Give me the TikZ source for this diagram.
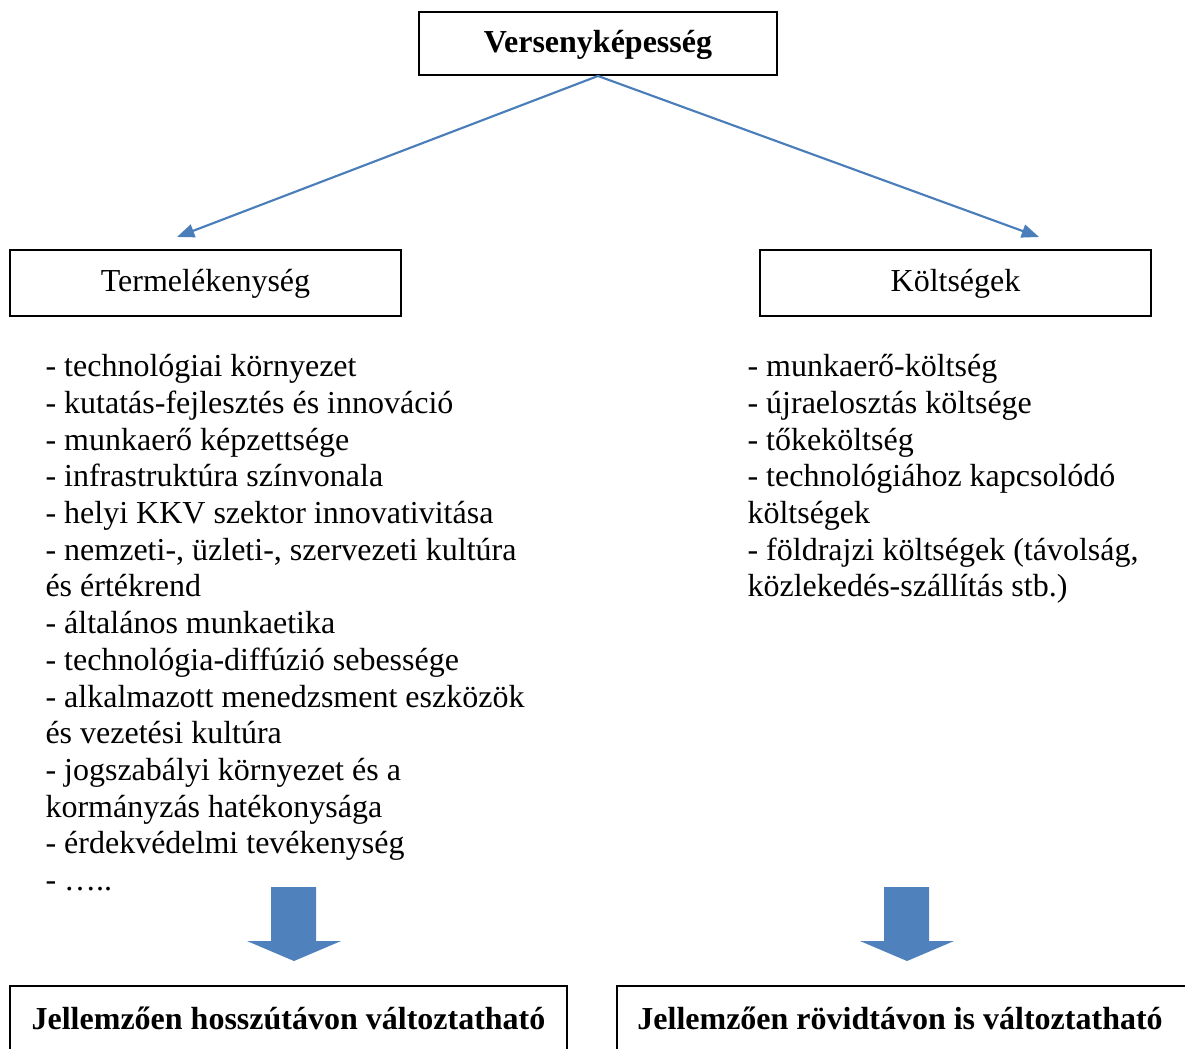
\documentclass[tikz,border=0pt]{standalone}
\usepackage{fontspec}
\setmainfont{Liberation Serif}
\usetikzlibrary{arrows.meta}
\definecolor{linkblue}{HTML}{4A7EBB}
\definecolor{blockblue}{HTML}{4F81BD}
\begin{document}
\begin{tikzpicture}[x=0.375pt,y=-0.375pt,
  box/.style={draw=black,line width=0.75pt,inner sep=0pt,text height=9pt,text depth=3pt,font=\fontsize{12}{14}\selectfont},
  bottombox/.style={draw=black,line width=0.75pt,inner xsep=0pt,inner ysep=0pt,text height=16.125pt,text depth=40pt,anchor=base,font=\fontsize{12}{14}\selectfont\bfseries},
  listline/.style={anchor=base west,inner sep=0pt,font=\fontsize{12}{14}\selectfont},
  link/.style={draw=linkblue,line width=0.8pt,-{Triangle[length=6.5pt,width=5pt]}},
  blockarrow/.style={fill=blockblue,draw=none}]
\useasboundingbox (0,0) rectangle (1185,1048);
\fill[white] (0,0) rectangle (1185,1048);

% top box
\node[box,text height=10pt,minimum width=134.25pt,minimum height=23.625pt,font=\fontsize{12}{14}\selectfont\bfseries] (top) at (598,43.5) {Versenyképesség};

% second level boxes
\node[box,minimum width=146.6pt,minimum height=24.75pt] (prod) at (205.5,283) {Termelékenység};
\node[box,minimum width=146.6pt,minimum height=24.75pt] (cost) at (955.5,283) {Költségek};

% connectors
\coordinate (tipL) at (177,237);
\coordinate (tipR) at (1039,237);
\draw[link] (top.south) -- (tipL);
\draw[link] (top.south) -- (tipR);

% left list
\foreach \t [count=\i from 0] in {
  {- technológiai környezet},
  {- kutatás-fejlesztés és innováció},
  {- munkaerő képzettsége},
  {- infrastruktúra színvonala},
  {- helyi KKV szektor innovativitása},
  {- nemzeti-, üzleti-, szervezeti kultúra},
  {és értékrend},
  {- általános munkaetika},
  {- technológia-diffúzió sebessége},
  {- alkalmazott menedzsment eszközök},
  {és vezetési kultúra},
  {- jogszabályi környezet és a},
  {kormányzás hatékonysága},
  {- érdekvédelmi tevékenység},
  {- …..}}
  \node[listline] (left\i) at (45,376.7+36.7*\i) {\t};

% right list
\foreach \t [count=\i from 0] in {
  {- munkaerő-költség},
  {- újraelosztás költsége},
  {- tőkeköltség},
  {- technológiához kapcsolódó},
  {költségek},
  {- földrajzi költségek (távolság,},
  {közlekedés-szállítás stb.)}}
  \node[listline] (right\i) at (747,376.7+36.7*\i) {\t};

% block arrows
\path[blockarrow] (271,887) -- (316,887) -- (316,941) -- (341,941) -- (294,961) -- (247,941) -- (271,941) -- cycle;
\path[blockarrow] (884,887) -- (929,887) -- (929,941) -- (954,941) -- (907,961) -- (860,941) -- (884,941) -- cycle;

% bottom boxes
\node[bottombox,minimum width=208.9pt] (longterm) at (288.5,1029) {Jellemzően hosszútávon változtatható};
\node[bottombox,minimum width=229.9pt] (shortterm) at (923.5,1029) {Jellemzően rövidtávon is változtatható\kern17.6pt};
\end{tikzpicture}
\end{document}
